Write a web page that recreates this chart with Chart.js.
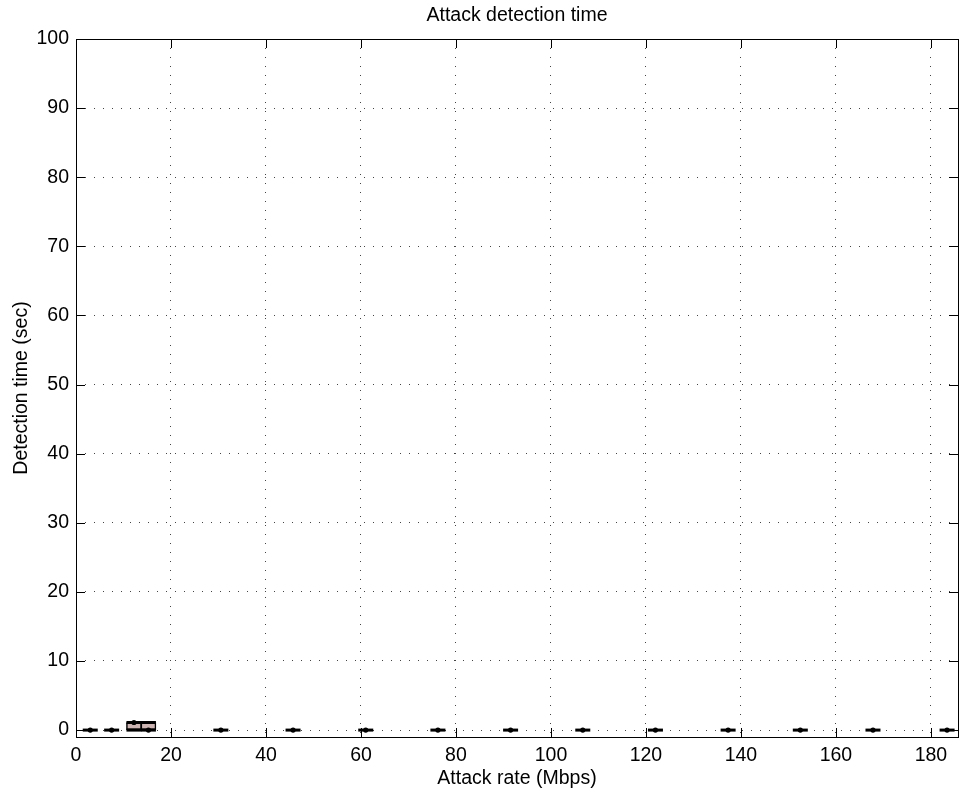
<!DOCTYPE html>
<html>
<head>
<meta charset="utf-8">
<script src="https://cdn.jsdelivr.net/npm/chart.js@4/dist/chart.umd.min.js"></script>
<style>
  html, body { margin: 0; padding: 0; background: #ffffff; }
  #wrap { width: 961px; height: 795px; }
</style>
</head>
<body>
<div id="wrap"><canvas id="c" width="961" height="795"></canvas></div>
<script>
// ---- data ----
const attackRates   = [3.0, 7.5, 12.2, 15.25, 30.5, 45.7, 61, 76.2, 91.5, 106.7, 122, 137.3, 152.5, 167.8, 183.4];
const lowerQuartile = [0, 0, 0, 0, 0, 0, 0, 0, 0, 0, 0, 0, 0, 0, 0];
const upperQuartile = [0, 0, 1.1, 1.1, 0, 0, 0, 0, 0, 0, 0, 0, 0, 0, 0];
const medianTimes   = [0, 0, 1.1, 0, 0, 0, 0, 0, 0, 0, 0, 0, 0, 0, 0];
const xTickValues   = [0, 20, 40, 60, 80, 100, 120, 140, 160, 180];
const yTickValues   = [0, 10, 20, 30, 40, 50, 60, 70, 80, 90, 100];
const chartTitle    = 'Attack detection time';
const xAxisTitle    = 'Attack rate (Mbps)';
const yAxisTitle    = 'Detection time (sec)';

const FONT = "'Liberation Sans', Arial, Helvetica, sans-serif";
const FS = 19.5;

const boxData  = attackRates.map((x, i) => ({ x: x, y: [lowerQuartile[i], upperQuartile[i]] }));
const capData  = [];
attackRates.forEach((x, i) => {
  capData.push({ x: x, y: lowerQuartile[i] });
  if (upperQuartile[i] !== lowerQuartile[i]) capData.push({ x: x, y: upperQuartile[i] });
});
const medData  = attackRates.map((x, i) => ({ x: x, y: medianTimes[i] }));

// frame + inward tick marks (MATLAB style box) + title centred over the axes
const frameTicks = {
  id: 'frameTicks',
  afterDatasetsDraw(chart) {
    const { ctx, chartArea: a, scales } = chart;
    const len = 9;
    ctx.save();
    ctx.strokeStyle = '#000';
    ctx.lineWidth = 1;
    ctx.beginPath();
    xTickValues.forEach(v => {
      const px = Math.round(scales.x.getPixelForValue(v)) + 0.5;
      ctx.moveTo(px, a.bottom); ctx.lineTo(px, a.bottom - len);
      ctx.moveTo(px, a.top);    ctx.lineTo(px, a.top + len);
    });
    yTickValues.forEach(v => {
      const py = Math.round(scales.y.getPixelForValue(v)) + 0.5;
      ctx.moveTo(a.left, py);  ctx.lineTo(a.left + len, py);
      ctx.moveTo(a.right, py); ctx.lineTo(a.right - len, py);
    });
    ctx.stroke();
    ctx.strokeRect(Math.round(a.left) + 0.5, Math.round(a.top) + 0.5,
                   Math.round(a.right - a.left), Math.round(a.bottom - a.top));
    ctx.fillStyle = '#000';
    ctx.font = FS + 'px ' + FONT;
    ctx.textAlign = 'center';
    ctx.textBaseline = 'middle';
    ctx.fillText(chartTitle, (a.left + a.right) / 2, 16);
    ctx.restore();
  }
};

new Chart(document.getElementById('c'), {
  type: 'bar',
  data: {
    datasets: [
      {
        type: 'scatter',
        label: 'median',
        data: medData,
        pointStyle: 'circle',
        pointRadius: 2.6,
        backgroundColor: '#000',
        borderColor: '#000',
        borderWidth: 0,
        order: 1
      },
      {
        type: 'scatter',
        label: 'whisker',
        data: capData,
        pointStyle: 'line',
        pointRadius: 7.5,
        borderColor: '#000',
        borderWidth: 3,
        order: 2
      },
      {
        type: 'bar',
        label: 'box',
        data: boxData,
        backgroundColor: 'rgb(204,180,178)',
        borderColor: '#000',
        borderWidth: 1.5,
        borderSkipped: false,
        barThickness: 15,
        order: 3
      }
    ]
  },
  plugins: [frameTicks],
  options: {
    responsive: false,
    devicePixelRatio: 1,
    animation: false,
    layout: { autoPadding: false, padding: { left: 0, right: 3, top: 39, bottom: 0 } },
    plugins: {
      legend: { display: false },
      tooltip: { enabled: false },
      title: { display: false }
    },
    scales: {
      x: {
        type: 'linear',
        offset: false,
        min: 0,
        max: 185.7,
        afterFit(scale) { scale.height = 58; scale.paddingLeft = 0; scale.paddingRight = 0; },
        afterBuildTicks(scale) { scale.ticks = xTickValues.map(v => ({ value: v })); },
        ticks: {
          color: '#000',
          font: { family: FONT, size: FS },
          padding: 7,
          maxRotation: 0,
          autoSkip: false
        },
        grid: { color: '#444', lineWidth: 1, drawTicks: false, offset: false },
        border: { display: false, dash: [1, 8] },
        title: {
          display: true,
          text: xAxisTitle,
          color: '#000',
          font: { family: FONT, size: FS, lineHeight: 1.2 },
          padding: { top: 0, bottom: 4.3 }
        }
      },
      y: {
        type: 'linear',
        min: -1,
        max: 100,
        afterFit(scale) { scale.width = 76; scale.paddingTop = 0; scale.paddingBottom = 0; },
        afterBuildTicks(scale) { scale.ticks = yTickValues.map(v => ({ value: v })); },
        ticks: {
          color: '#000',
          font: { family: FONT, size: FS },
          padding: 7,
          autoSkip: false
        },
        grid: { color: '#444', lineWidth: 1, drawTicks: false },
        border: { display: false, dash: [1, 8] },
        title: {
          display: true,
          text: yAxisTitle,
          color: '#000',
          font: { family: FONT, size: FS, lineHeight: 1.2 },
          padding: { top: 10.3, bottom: 0 }
        }
      }
    }
  }
});
</script>
</body>
</html>
